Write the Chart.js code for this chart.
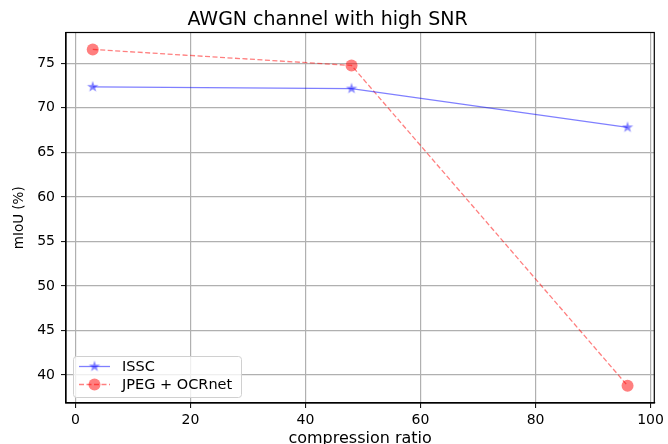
<!DOCTYPE html>
<html><head><meta charset="utf-8">
<script src="https://cdn.jsdelivr.net/npm/chart.js@4/dist/chart.umd.min.js"></script>
<style>html,body{margin:0;padding:0;background:#fff}#wrap{width:668px;height:444px}</style>
</head><body><div id="wrap"><canvas id="c" width="668" height="444"></canvas></div>
<script>
const compressionRatio = [3, 48, 96];
const isscMiou = [72.35, 72.15, 67.8];
const jpegOcrnetMiou = [76.55, 74.75, 38.8];
const xTicks = [0, 20, 40, 60, 80, 100];
const yTicks = [40, 45, 50, 55, 60, 65, 70, 75];
const seriesNames = ['ISSC', 'JPEG + OCRnet'];
const chartTitle = 'AWGN channel with high SNR';
const xTitle = 'compression ratio';
const yTitle = 'mIoU (%)';

const FONT = "'DejaVu Sans', 'Liberation Sans', sans-serif";
Chart.defaults.font.family = FONT;
Chart.defaults.color = '#000';

function makeStar(r, color) {
  const c = document.createElement('canvas');
  const s = Math.ceil(r * 2 + 2);
  c.width = s; c.height = s;
  const g = c.getContext('2d');
  const cx = s / 2, cy = s / 2, ri = r * 0.382;
  g.beginPath();
  for (let i = 0; i < 10; i++) {
    const rad = i % 2 === 0 ? r : ri;
    const a = -Math.PI / 2 + i * Math.PI / 5;
    const px = cx + rad * Math.cos(a), py = cy + rad * Math.sin(a);
    if (i === 0) g.moveTo(px, py); else g.lineTo(px, py);
  }
  g.closePath();
  g.fillStyle = color;
  g.fill();
  return c;
}
const blue = 'rgba(0,0,255,0.5)';
const red = 'rgba(255,0,0,0.5)';
const starImg = makeStar(6, blue);

const toPts = (ys) => compressionRatio.map((x, i) => ({x: x, y: ys[i]}));

const framePlugin = {
  id: 'frame',
  afterDraw(chart) {
    const {ctx, chartArea: a} = chart;
    ctx.save();
    ctx.strokeStyle = '#000';
    ctx.lineWidth = 1.2;
    ctx.strokeRect(a.left, a.top, a.right - a.left, a.bottom - a.top);
    ctx.restore();
  }
};

const legendPlugin = {
  id: 'mplLegend',
  afterDraw(chart) {
    const {ctx, chartArea: a} = chart;
    const bx = a.left + 7, bw = 168, bh = 41, by = a.bottom - 6 - bh;
    ctx.save();
    ctx.beginPath();
    ctx.roundRect(bx + 0.5, by + 0.5, bw, bh, 3);
    ctx.fillStyle = 'rgba(255,255,255,0.8)';
    ctx.fill();
    ctx.strokeStyle = '#d0d0d0';
    ctx.lineWidth = 1;
    ctx.stroke();
    chart.data.datasets.forEach((ds, i) => {
      const yy = by + 10.5 + i * 18;
      const x0 = bx + 6, x1 = bx + 37, xm = (x0 + x1) / 2;
      ctx.beginPath();
      ctx.setLineDash(ds.borderDash || []);
      ctx.strokeStyle = ds.borderColor;
      ctx.lineWidth = ds.borderWidth;
      ctx.moveTo(x0, yy); ctx.lineTo(x1, yy);
      ctx.stroke();
      ctx.setLineDash([]);
      if (ds.pointStyle === 'circle') {
        ctx.beginPath();
        ctx.arc(xm, yy, ds.pointRadius, 0, Math.PI * 2);
        ctx.fillStyle = ds.pointBackgroundColor;
        ctx.fill();
      } else {
        ctx.drawImage(ds.pointStyle, xm - ds.pointStyle.width / 2, yy - ds.pointStyle.height / 2);
      }
      ctx.fillStyle = '#000';
      ctx.font = '14.5px ' + FONT;
      ctx.textBaseline = 'middle';
      ctx.textAlign = 'left';
      ctx.fillText(ds.label, bx + 49, yy + 0.5);
    });
    ctx.restore();
  }
};

new Chart(document.getElementById('c'), {
  type: 'line',
  data: {
    datasets: [
      {
        label: seriesNames[0],
        data: toPts(isscMiou),
        borderColor: blue,
        backgroundColor: blue,
        borderWidth: 1.3,
        pointStyle: starImg,
        pointRadius: 6,
        pointBackgroundColor: blue,
        pointBorderWidth: 0,
        tension: 0,
        fill: false
      },
      {
        label: seriesNames[1],
        data: toPts(jpegOcrnetMiou),
        borderColor: red,
        backgroundColor: red,
        borderWidth: 1.3,
        borderDash: [5, 2.5],
        pointStyle: 'circle',
        pointRadius: 6,
        pointBackgroundColor: red,
        pointBorderColor: 'rgba(0,0,0,0)',
        pointBorderWidth: 0,
        tension: 0,
        fill: false
      }
    ]
  },
  options: {
    responsive: false,
    animation: false,
    devicePixelRatio: 1,
    layout: {padding: {left: 0, right: 13, top: 0, bottom: 0}},
    plugins: {
      legend: {display: false},
      tooltip: {enabled: false},
      title: {
        display: true,
        text: chartTitle,
        color: '#000',
        font: {size: 19, weight: 'normal', family: FONT},
        padding: {top: 8.6, bottom: 1.1}
      }
    },
    scales: {
      x: {
        type: 'linear',
        min: -1.65,
        max: 100.65,
        afterBuildTicks: (s) => { s.ticks = xTicks.map(v => ({value: v})); },
        afterFit: (s) => { s.height = 41; },
        grid: {color: '#b0b0b0', lineWidth: 1.2, tickColor: '#000', tickLength: 5, tickWidth: 1},
        border: {color: '#000', width: 1.2},
        ticks: {font: {size: 14}, color: '#000', padding: 4, maxRotation: 0, autoSkip: false},
        title: {display: true, text: xTitle, color: '#000', font: {size: 16}, padding: {top: 0, bottom: -4}}
      },
      y: {
        type: 'linear',
        min: 36.86,
        max: 78.45,
        afterBuildTicks: (s) => { s.ticks = yTicks.map(v => ({value: v})); },
        afterFit: (s) => { s.width = 66; },
        grid: {color: '#b0b0b0', lineWidth: 1.2, tickColor: '#000', tickLength: 5, tickWidth: 1},
        border: {color: '#000', width: 1.2},
        ticks: {font: {size: 14}, color: '#000', padding: 6, autoSkip: false},
        title: {display: true, text: yTitle, color: '#000', font: {size: 13.5}, padding: {top: 11.5, bottom: 0}}
      }
    }
  },
  plugins: [framePlugin, legendPlugin]
});
</script>
</body></html>
